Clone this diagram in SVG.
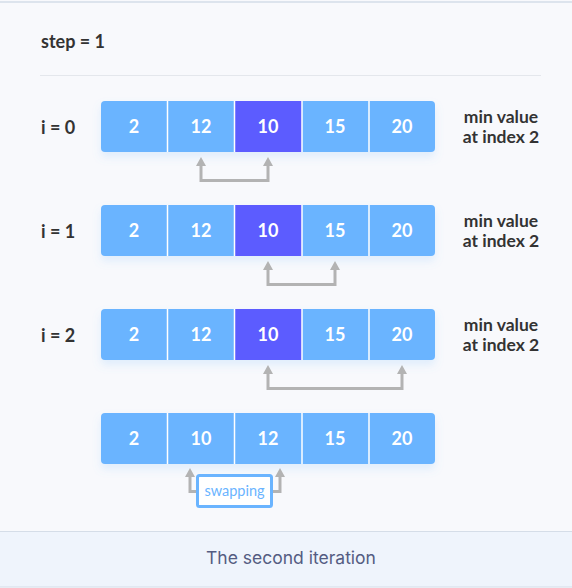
<svg xmlns="http://www.w3.org/2000/svg" width="572" height="588" viewBox="0 0 572 588">
<defs>
<style>
.lbl{font-family:Lato,"Liberation Sans",sans-serif;font-weight:700;font-size:18px;fill:#333}
.mv{font-family:Lato,"Liberation Sans",sans-serif;font-weight:700;font-size:17.5px;fill:#333;text-anchor:middle}
.num{font-family:Lato,"Liberation Sans",sans-serif;font-weight:700;font-size:18px;fill:#fff;text-anchor:middle}
.cell{fill:#6ab4ff}
.hl{fill:#5c5cff}
.sep{stroke:#fff;stroke-width:1.5}
.arr{fill:none;stroke:#b3b3b3;stroke-width:3}
.cap{font-family:Inter,"Noto Sans",sans-serif;font-size:17.5px;fill:#545c82;text-anchor:middle}
</style>
<filter id="sh" x="-10%" y="-30%" width="120%" height="180%">
<feDropShadow dx="0" dy="5" stdDeviation="4" flood-color="#6ab4ff" flood-opacity="0.18"/>
</filter>
</defs>
<rect width="572" height="588" fill="#f8f9fc"/>
<line x1="0" y1="2" x2="572" y2="2" stroke="#d5dde8" stroke-width="1.5"/>
<text class="lbl" x="41" y="48">step = 1</text>
<line x1="40" y1="75.5" x2="541" y2="75.5" stroke="#e4e7ec" stroke-width="1"/>

<g id="row0">
<text class="lbl" x="41" y="134">i = 0</text>
<g filter="url(#sh)"><rect class="cell" x="101" y="101" width="334" height="51" rx="4"/></g>
<rect class="hl" x="235" y="101" width="67" height="51"/>
<line class="sep" x1="167.5" y1="101" x2="167.5" y2="152"/><line class="sep" x1="234.5" y1="101" x2="234.5" y2="152"/><line class="sep" x1="302" y1="101" x2="302" y2="152"/><line class="sep" x1="369" y1="101" x2="369" y2="152"/>
<text class="num" x="134" y="133">2</text><text class="num" x="201" y="133">12</text><text class="num" x="268" y="133">10</text><text class="num" x="335" y="133">15</text><text class="num" x="402" y="133">20</text>
<text class="mv" x="501" y="123">min value</text>
<text class="mv" x="501" y="143">at index 2</text>
</g>

<g id="row1">
<text class="lbl" x="41" y="238">i = 1</text>
<g filter="url(#sh)"><rect class="cell" x="101" y="205" width="334" height="51" rx="4"/></g>
<rect class="hl" x="235" y="205" width="67" height="51"/>
<line class="sep" x1="167.5" y1="205" x2="167.5" y2="256"/><line class="sep" x1="234.5" y1="205" x2="234.5" y2="256"/><line class="sep" x1="302" y1="205" x2="302" y2="256"/><line class="sep" x1="369" y1="205" x2="369" y2="256"/>
<text class="num" x="134" y="237">2</text><text class="num" x="201" y="237">12</text><text class="num" x="268" y="237">10</text><text class="num" x="335" y="237">15</text><text class="num" x="402" y="237">20</text>
<text class="mv" x="501" y="227">min value</text>
<text class="mv" x="501" y="247">at index 2</text>
</g>

<g id="row2">
<text class="lbl" x="41" y="342">i = 2</text>
<g filter="url(#sh)"><rect class="cell" x="101" y="309" width="334" height="51" rx="4"/></g>
<rect class="hl" x="235" y="309" width="67" height="51"/>
<line class="sep" x1="167.5" y1="309" x2="167.5" y2="360"/><line class="sep" x1="234.5" y1="309" x2="234.5" y2="360"/><line class="sep" x1="302" y1="309" x2="302" y2="360"/><line class="sep" x1="369" y1="309" x2="369" y2="360"/>
<text class="num" x="134" y="341">2</text><text class="num" x="201" y="341">12</text><text class="num" x="268" y="341">10</text><text class="num" x="335" y="341">15</text><text class="num" x="402" y="341">20</text>
<text class="mv" x="501" y="331">min value</text>
<text class="mv" x="501" y="351">at index 2</text>
</g>

<g id="row3">
<g filter="url(#sh)"><rect class="cell" x="101" y="413" width="334" height="51" rx="4"/></g>
<line class="sep" x1="167.5" y1="413" x2="167.5" y2="464"/><line class="sep" x1="234.5" y1="413" x2="234.5" y2="464"/><line class="sep" x1="302" y1="413" x2="302" y2="464"/><line class="sep" x1="369" y1="413" x2="369" y2="464"/>
<text class="num" x="134" y="445">2</text><text class="num" x="201" y="445">10</text><text class="num" x="268" y="445">12</text><text class="num" x="335" y="445">15</text><text class="num" x="402" y="445">20</text>
</g>

<g id="connectors">
<path class="arr" d="M201,165 V180.5 H268 V165"/>
<path d="M196,166 L201,157 L206,166 Z M263,166 L268,157 L273,166 Z" fill="#b3b3b3"/>
<path class="arr" d="M268,269 V284.5 H335 V269"/>
<path d="M263,270 L268,261 L273,270 Z M330,270 L335,261 L340,270 Z" fill="#b3b3b3"/>
<path class="arr" d="M268,373 V388.5 H402 V373"/>
<path d="M263,374 L268,365 L273,374 Z M397,374 L402,365 L407,374 Z" fill="#b3b3b3"/>
<path class="arr" d="M190,476 V491.5 H198"/>
<path class="arr" d="M271,491.5 H280 V476"/>
<path d="M185,477 L190,468 L195,477 Z M275,477 L280,468 L285,477 Z" fill="#b3b3b3"/>
</g>

<g id="swapping">
<rect x="197.5" y="475.5" width="74" height="31" rx="2" fill="#fff" stroke="#6ab4ff" stroke-width="3"/>
<text x="234.5" y="495.5" text-anchor="middle" font-family="Lato,'Liberation Sans',sans-serif" font-size="14.5" fill="#6ab4ff">swapping</text>
</g>

<g id="caption">
<rect x="0" y="531" width="572" height="56" fill="#eff4fc"/>
<line x1="0" y1="531.5" x2="572" y2="531.5" stroke="#d5dde8" stroke-width="1"/>
<line x1="0" y1="587" x2="572" y2="587" stroke="#d5dde8" stroke-width="1"/>
<text class="cap" x="291" y="564">The second iteration</text>
</g>
</svg>
